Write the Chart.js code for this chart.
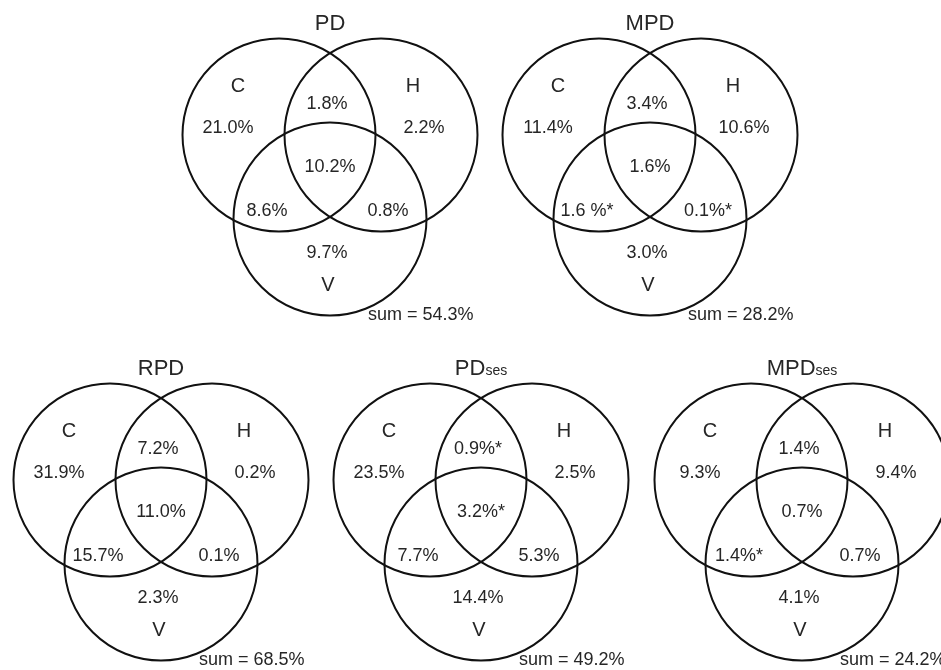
<!DOCTYPE html>
<html>
<head>
<meta charset="utf-8">
<script src="https://cdn.jsdelivr.net/npm/chart.js@4"></script>
<style>
  html, body { margin: 0; padding: 0; background: #fff; overflow: hidden; }
  #wrap { width: 941px; height: 670px; }
</style>
</head>
<body>
<div id="wrap"><canvas id="venn" width="941" height="670"></canvas></div>
<script>
// Panels and sets
const panelNames = ['PD', 'MPD', 'RPD', 'PDses', 'MPDses'];
const setNames = ['C', 'H', 'V'];

// Region order: C only, H only, V only, C∩H, C∩V, H∩V, C∩H∩V
const pdValues     = [21.0,  2.2,  9.7, 1.8,  8.6, 0.8, 10.2];
const mpdValues    = [11.4, 10.6,  3.0, 3.4,  1.6, 0.1,  1.6];
const rpdValues    = [31.9,  0.2,  2.3, 7.2, 15.7, 0.1, 11.0];
const pdSesValues  = [23.5,  2.5, 14.4, 0.9,  7.7, 5.3,  3.2];
const mpdSesValues = [ 9.3,  9.4,  4.1, 1.4,  1.4, 0.7,  0.7];

// Unit suffix per region ('*' marks significant fractions)
const pdMarks     = ['%', '%', '%', '%',   '%',    '%',   '%'];
const mpdMarks    = ['%', '%', '%', '%',   ' %*',  '%*',  '%'];
const rpdMarks    = ['%', '%', '%', '%',   '%',    '%',   '%'];
const pdSesMarks  = ['%', '%', '%', '%*',  '%',    '%',   '%*'];
const mpdSesMarks = ['%', '%', '%', '%',   '%*',   '%',   '%'];

const sumValues = [54.3, 28.2, 68.5, 49.2, 24.2];

const panelValues = [pdValues, mpdValues, rpdValues, pdSesValues, mpdSesValues];
const panelMarks  = [pdMarks, mpdMarks, rpdMarks, pdSesMarks, mpdSesMarks];

// ---- layout (canvas units, 1 unit = 1 px) ----
const W = 941, H = 670;
const panelAnchors = [[330, 135], [650, 135], [161, 480], [481, 480], [802, 480]];
const circleOffsets = [[-51, 0], [51, 0], [0, 84]];
const circleRadius = 96.5;
const regionOffsets = [[-102, -7], [94, -7], [-3, 118], [-3, -31], [-63, 76], [58, 76], [0, 32]];
const setLabelOffsets = [[-92, -49], [83, -49], [-2, 150]];
const titleOffset = [0, -113];
const sumOffset = [38, 180];

const FONT = '"Liberation Sans", Arial, Helvetica, sans-serif';
const TEXT = '#262626';

const circles = [];
panelAnchors.forEach(([ax, ay]) => {
  circleOffsets.forEach(([dx, dy]) => {
    circles.push({ x: ax + dx, y: ay + dy, r: circleRadius });
  });
});

const vennText = {
  id: 'vennText',
  afterDatasetsDraw(chart) {
    const { ctx, scales: { x, y } } = chart;
    const px = v => x.getPixelForValue(v);
    const py = v => y.getPixelForValue(v);
    ctx.save();
    ctx.fillStyle = TEXT;
    ctx.textBaseline = 'middle';

    panelNames.forEach((name, p) => {
      const [ax, ay] = panelAnchors[p];

      // title, with a small "ses" suffix
      const m = name.match(/^(.*?)(ses)?$/);
      const main = m[1], sub = m[2] || '';
      ctx.font = '22px ' + FONT;
      const wMain = ctx.measureText(main).width;
      ctx.font = '14px ' + FONT;
      const wSub = sub ? ctx.measureText(sub).width : 0;
      const tx = px(ax + titleOffset[0]) - (wMain + wSub) / 2;
      const ty = py(ay + titleOffset[1]);
      ctx.textAlign = 'left';
      ctx.textBaseline = 'alphabetic';
      ctx.font = '22px ' + FONT;
      ctx.fillText(main, tx, ty + 8);
      if (sub) {
        ctx.font = '14px ' + FONT;
        ctx.fillText(sub, tx + wMain, ty + 8);
      }
      ctx.textBaseline = 'middle';

      // set names
      ctx.textAlign = 'center';
      ctx.font = '20px ' + FONT;
      setNames.forEach((s, i) => {
        const [dx, dy] = setLabelOffsets[i];
        ctx.fillText(s, px(ax + dx), py(ay + dy));
      });

      // region shares
      ctx.font = '18px ' + FONT;
      panelValues[p].forEach((v, i) => {
        const [dx, dy] = regionOffsets[i];
        ctx.fillText(v.toFixed(1) + panelMarks[p][i], px(ax + dx), py(ay + dy));
      });

      // total
      ctx.textAlign = 'left';
      ctx.fillText('sum = ' + sumValues[p].toFixed(1) + '%', px(ax + sumOffset[0]), py(ay + sumOffset[1]));
    });
    ctx.restore();
  }
};

new Chart(document.getElementById('venn'), {
  type: 'bubble',
  data: {
    datasets: [{
      data: circles,
      backgroundColor: 'rgba(0,0,0,0)',
      borderColor: '#111',
      borderWidth: 2,
      hoverBorderWidth: 2,
      hoverRadius: 0,
      clip: false
    }]
  },
  options: {
    responsive: false,
    animation: false,
    devicePixelRatio: 1,
    events: [],
    layout: { padding: 0, autoPadding: false },
    scales: {
      x: { type: 'linear', min: 0, max: W, display: false },
      y: { type: 'linear', min: 0, max: H, reverse: true, display: false }
    },
    plugins: { legend: { display: false }, tooltip: { enabled: false } }
  },
  plugins: [vennText]
});
</script>
</body>
</html>
